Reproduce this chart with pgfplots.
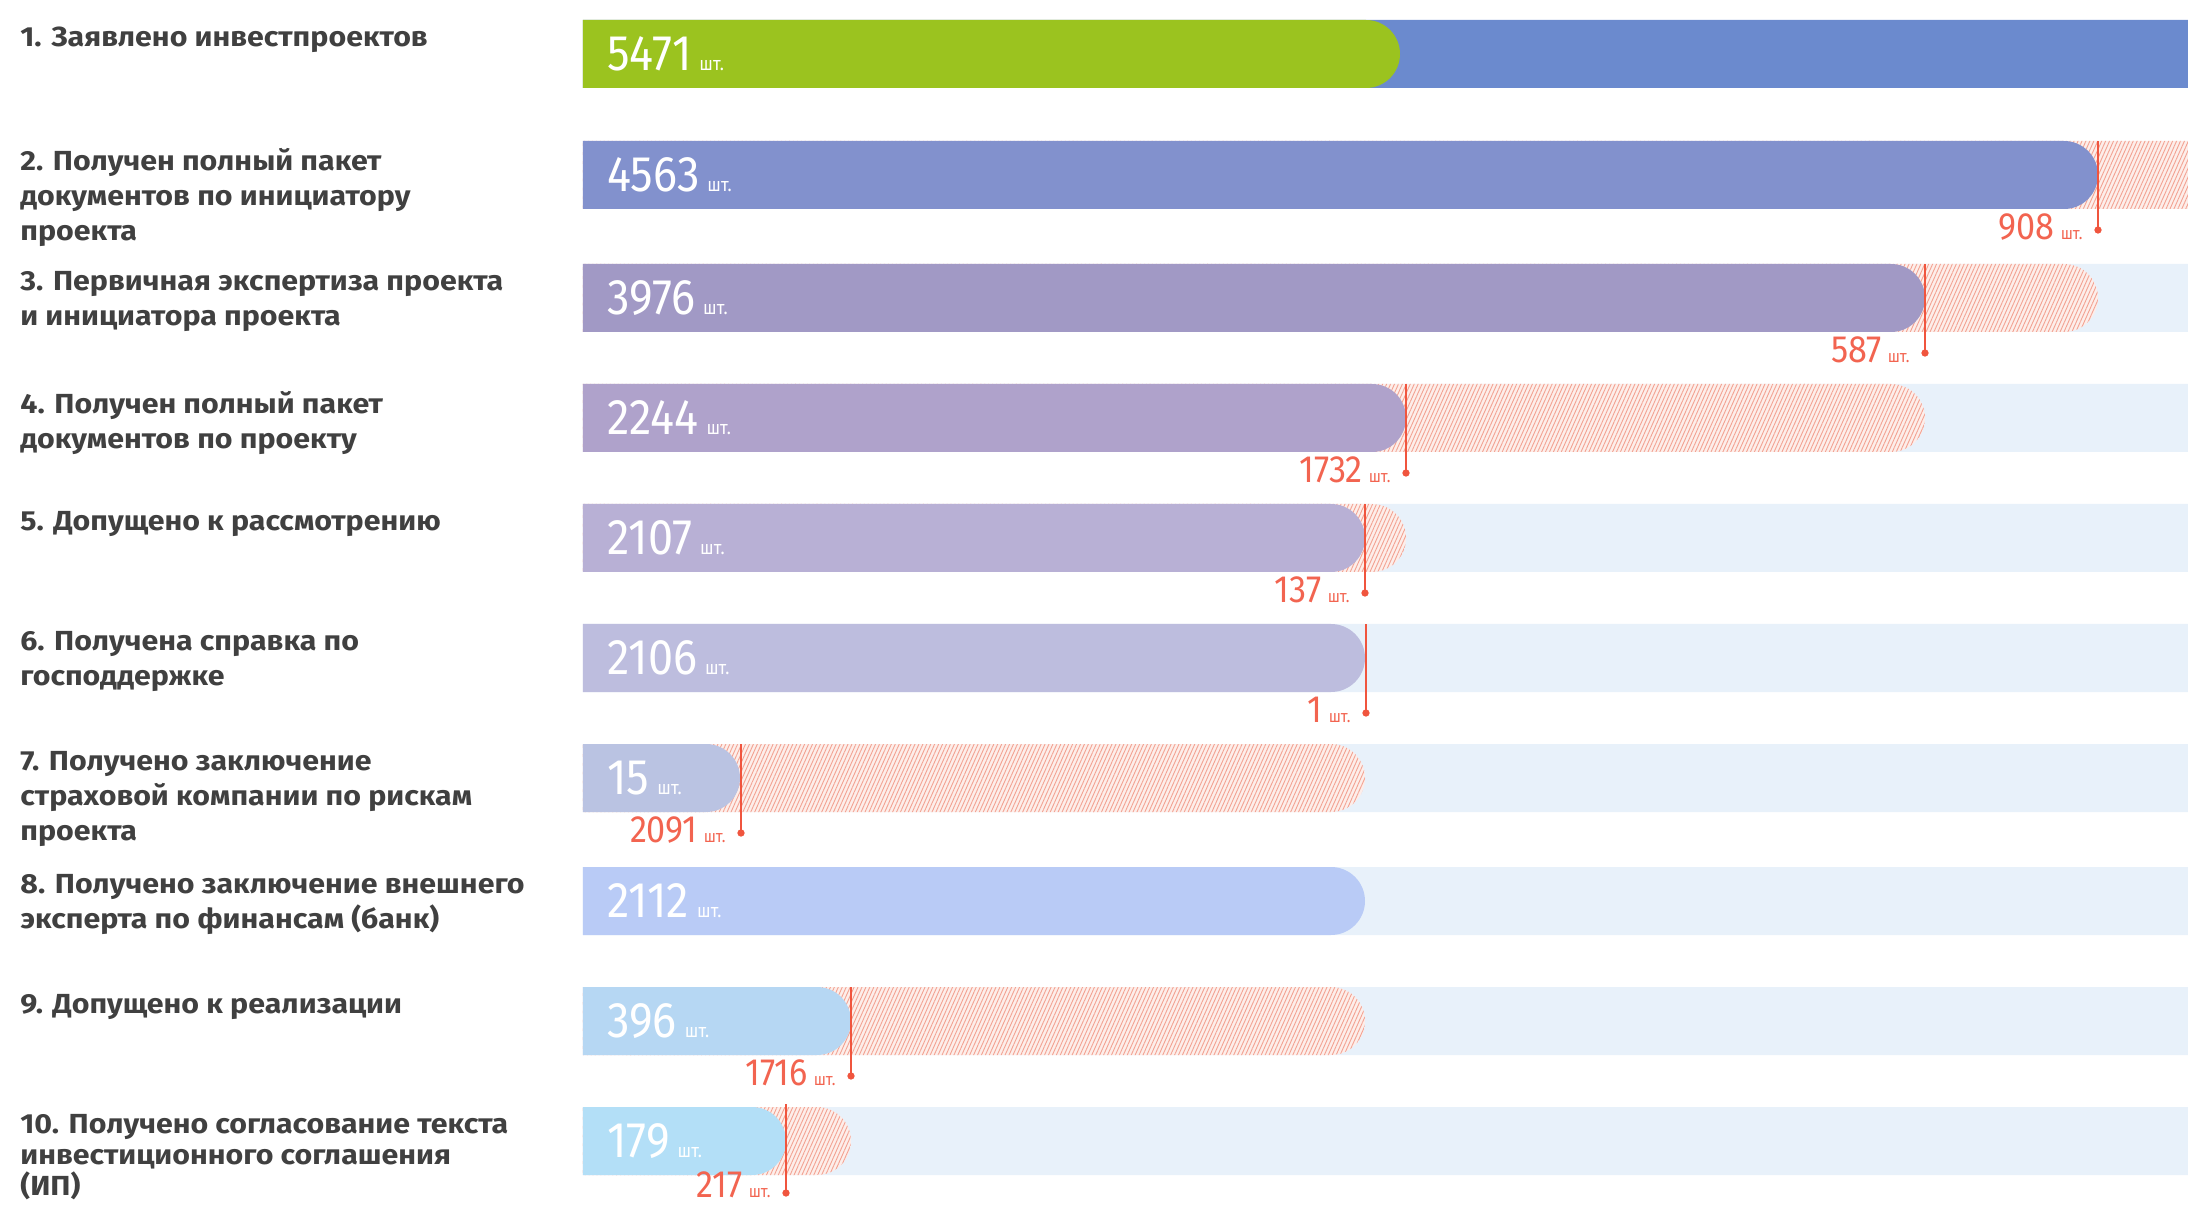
\documentclass[border=0pt]{standalone}
\usepackage{fontspec}
\setmainfont{Fira Sans}
\newfontfamily\labelfont{Fira Sans}[FakeStretch=1.1]
\newfontfamily\numfont{Fira Sans}[FakeStretch=0.9]
\usepackage{pgfplots}
\pgfplotsset{compat=1.18}
\usetikzlibrary{patterns.meta}

\definecolor{cgreen}{HTML}{9BC31F}
\definecolor{cblue}{HTML}{6B8ACE}
\definecolor{c2}{HTML}{8291CD}
\definecolor{c3}{HTML}{A199C5}
\definecolor{c4}{HTML}{AFA2CB}
\definecolor{c5}{HTML}{B8B0D5}
\definecolor{c6}{HTML}{BDBDDE}
\definecolor{c7}{HTML}{BAC3E2}
\definecolor{c8}{HTML}{B9CBF6}
\definecolor{c9}{HTML}{B6D7F3}
\definecolor{c10}{HTML}{B3DFF7}
\definecolor{pale}{HTML}{E8F1FA}
\definecolor{hatchbg}{HTML}{FDEEEA}
\definecolor{hatchline}{HTML}{F3A292}
\definecolor{redline}{HTML}{F0553E}
\definecolor{redtext}{HTML}{F26450}
\definecolor{labelgray}{HTML}{404040}

\newdimen\rbXa \newdimen\rbXb \newdimen\rbYa \newdimen\rbYb \newdimen\rbR
\makeatletter
\def\roundbar@draw{%
  \ifdim\rbXa>\rbXb \rbR=\rbXa \rbXa=\rbXb \rbXb=\rbR \fi
  \ifdim\rbYa>\rbYb \rbR=\rbYa \rbYa=\rbYb \rbYb=\rbR \fi
  \rbR=\rbYb \advance\rbR by -\rbYa \divide\rbR by 2
  \advance\rbXb by -\rbR
  \pgfpathmoveto{\pgfqpoint{\rbXa}{\rbYa}}%
  \pgfpathlineto{\pgfqpoint{\rbXb}{\rbYa}}%
  \pgfpatharc{-90}{90}{\rbR}%
  \pgfpathlineto{\pgfqpoint{\rbXa}{\rbYb}}%
  \pgfpathclose
}
\def\roundbarcorners#1#2{%
  \pgf@process{#2}\rbXb=\pgf@x \rbYb=\pgf@y
  \pgf@process{#1}\rbXa=\pgf@x \rbYa=\pgf@y
  \roundbar@draw}
\def\roundbarrect#1#2{%
  \pgf@process{#1}\rbXa=\pgf@x \rbYa=\pgf@y
  \pgf@process{#2}\rbXb=\pgf@x \rbYb=\pgf@y
  \advance\rbXb by \rbXa \advance\rbYb by \rbYa
  \roundbar@draw}
\makeatother

\pgfplotsset{
  roundbar/.style={/utils/exec={\let\pgfpathrectanglecorners\roundbarcorners\let\pgfpathrectangle\roundbarrect}},
  barbase/.style={xbar, bar shift=0pt, bar width=68, draw=none, roundbar},
}

\newcommand\wnum[1]{{\fontsize{25}{25}\numfont #1}\kern4pt{\fontsize{9.5}{9.5}\numfont шт.}}
\newcommand\rnum[1]{{\fontsize{19}{19}\numfont #1}\kern3pt{\fontsize{8.5}{8.5}\numfont шт.}}

\begin{document}
\begin{tikzpicture}
\useasboundingbox (-291.5pt,0pt) rectangle (802.5pt,603pt);
\begin{axis}[
  at={(0pt,0pt)}, anchor=south west,
  scale only axis, width=802.5pt, height=603pt,
  xmin=0, xmax=1605, ymin=0, ymax=1206,
  axis line style={draw=none},
  major tick length=0pt,
  xtick=\empty,
  ytick={1152,1031,908,788,668,548,428,305,185,65},
  yticklabels={
    {1. Заявлено инвестпроектов},
    {2. Получен полный пакет\\документов по инициатору\\проекта},
    {3. Первичная экспертиза проекта\\и инициатора проекта},
    {4. Получен полный пакет\\документов по проекту},
    {5. Допущено к рассмотрению},
    {6. Получена справка по\\господдержке},
    {7. Получено заключение\\страховой компании по рискам\\проекта},
    {8. Получено заключение внешнего\\эксперта по финансам (банк)},
    {9. Допущено к реализации},
    {10. Получено согласование текста\\[-2pt]инвестиционного соглашения\\[-2pt](ИП)}},
  yticklabel style={font=\labelfont\bfseries\fontsize{13.8}{17.5}\selectfont, text=labelgray,
    anchor=north west, align=left, inner sep=0pt, xshift=-281.5pt, yshift=13.5pt},
]
% background (full extent) bars
\addplot[barbase, fill=cblue] coordinates {(1700,1152)};
\addplot[barbase, fill=pale] coordinates {(1700,908) (1700,788) (1700,668) (1700,548) (1700,428) (1700,305) (1700,185) (1700,65)};
% hatched part: dropped projects (extends to previous stage)
\addplot[barbase, fill=hatchbg] coordinates {(1700,1031) (1515,908) (1342,788) (823,668) (782,428) (782,185) (268,65)};
\addplot[barbase, fill=none, pattern={Lines[angle=66,distance=1.8pt,line width=0.45pt]}, pattern color=hatchline]
  coordinates {(1700,1031) (1515,908) (1342,788) (823,668) (782,428) (782,185) (268,65)};
% main bars
\addplot[barbase, fill=cgreen] coordinates {(817,1152)};
\addplot[barbase, fill=c2] coordinates {(1515,1031)};
\addplot[barbase, fill=c3] coordinates {(1342,908)};
\addplot[barbase, fill=c4] coordinates {(823,788)};
\addplot[barbase, fill=c5] coordinates {(782,668)};
\addplot[barbase, fill=c6] coordinates {(782,548)};
\addplot[barbase, fill=c7] coordinates {(157,428)};
\addplot[barbase, fill=c8] coordinates {(782,305)};
\addplot[barbase, fill=c9] coordinates {(268,185)};
\addplot[barbase, fill=c10] coordinates {(203,65)};
% red markers of the dropped amount
\addplot[only marks, mark=*, mark size=1.6pt, color=redline,
  error bars/.cd, y dir=plus, y fixed=89, error mark=none,
  error bar style={line width=0.7pt, color=redline}]
  coordinates {(1515,976) (1342,853) (823,733) (782,613) (783,493) (158,373) (268,130) (203,13)};
% values on bars
\begin{scope}[every node/.style={inner sep=0pt, text=white}]
\node[anchor=west] at (axis cs:24,1152) {\wnum{5471}};
\node[anchor=west] at (axis cs:24,1031) {\wnum{4563}};
\node[anchor=west] at (axis cs:24,908) {\wnum{3976}};
\node[anchor=west] at (axis cs:24,788) {\wnum{2244}};
\node[anchor=west] at (axis cs:24,668) {\wnum{2107}};
\node[anchor=west] at (axis cs:24,548) {\wnum{2106}};
\node[anchor=west] at (axis cs:24,428) {\wnum{15}};
\node[anchor=west] at (axis cs:24,305) {\wnum{2112}};
\node[anchor=west] at (axis cs:24,185) {\wnum{396}};
\node[anchor=west] at (axis cs:24,65) {\wnum{179}};
\end{scope}
\begin{scope}[every node/.style={inner sep=0pt, text=redtext, anchor=east}]
\node at (axis cs:1500,979) {\rnum{908}};
\node at (axis cs:1327,856) {\rnum{587}};
\node at (axis cs:808,736) {\rnum{1732}};
\node at (axis cs:767,616) {\rnum{137}};
\node at (axis cs:768,496) {\rnum{1}};
\node at (axis cs:143,376) {\rnum{2091}};
\node at (axis cs:253,133) {\rnum{1716}};
\node at (axis cs:188,21) {\rnum{217}};
\end{scope}
\end{axis}
\end{tikzpicture}
\end{document}
